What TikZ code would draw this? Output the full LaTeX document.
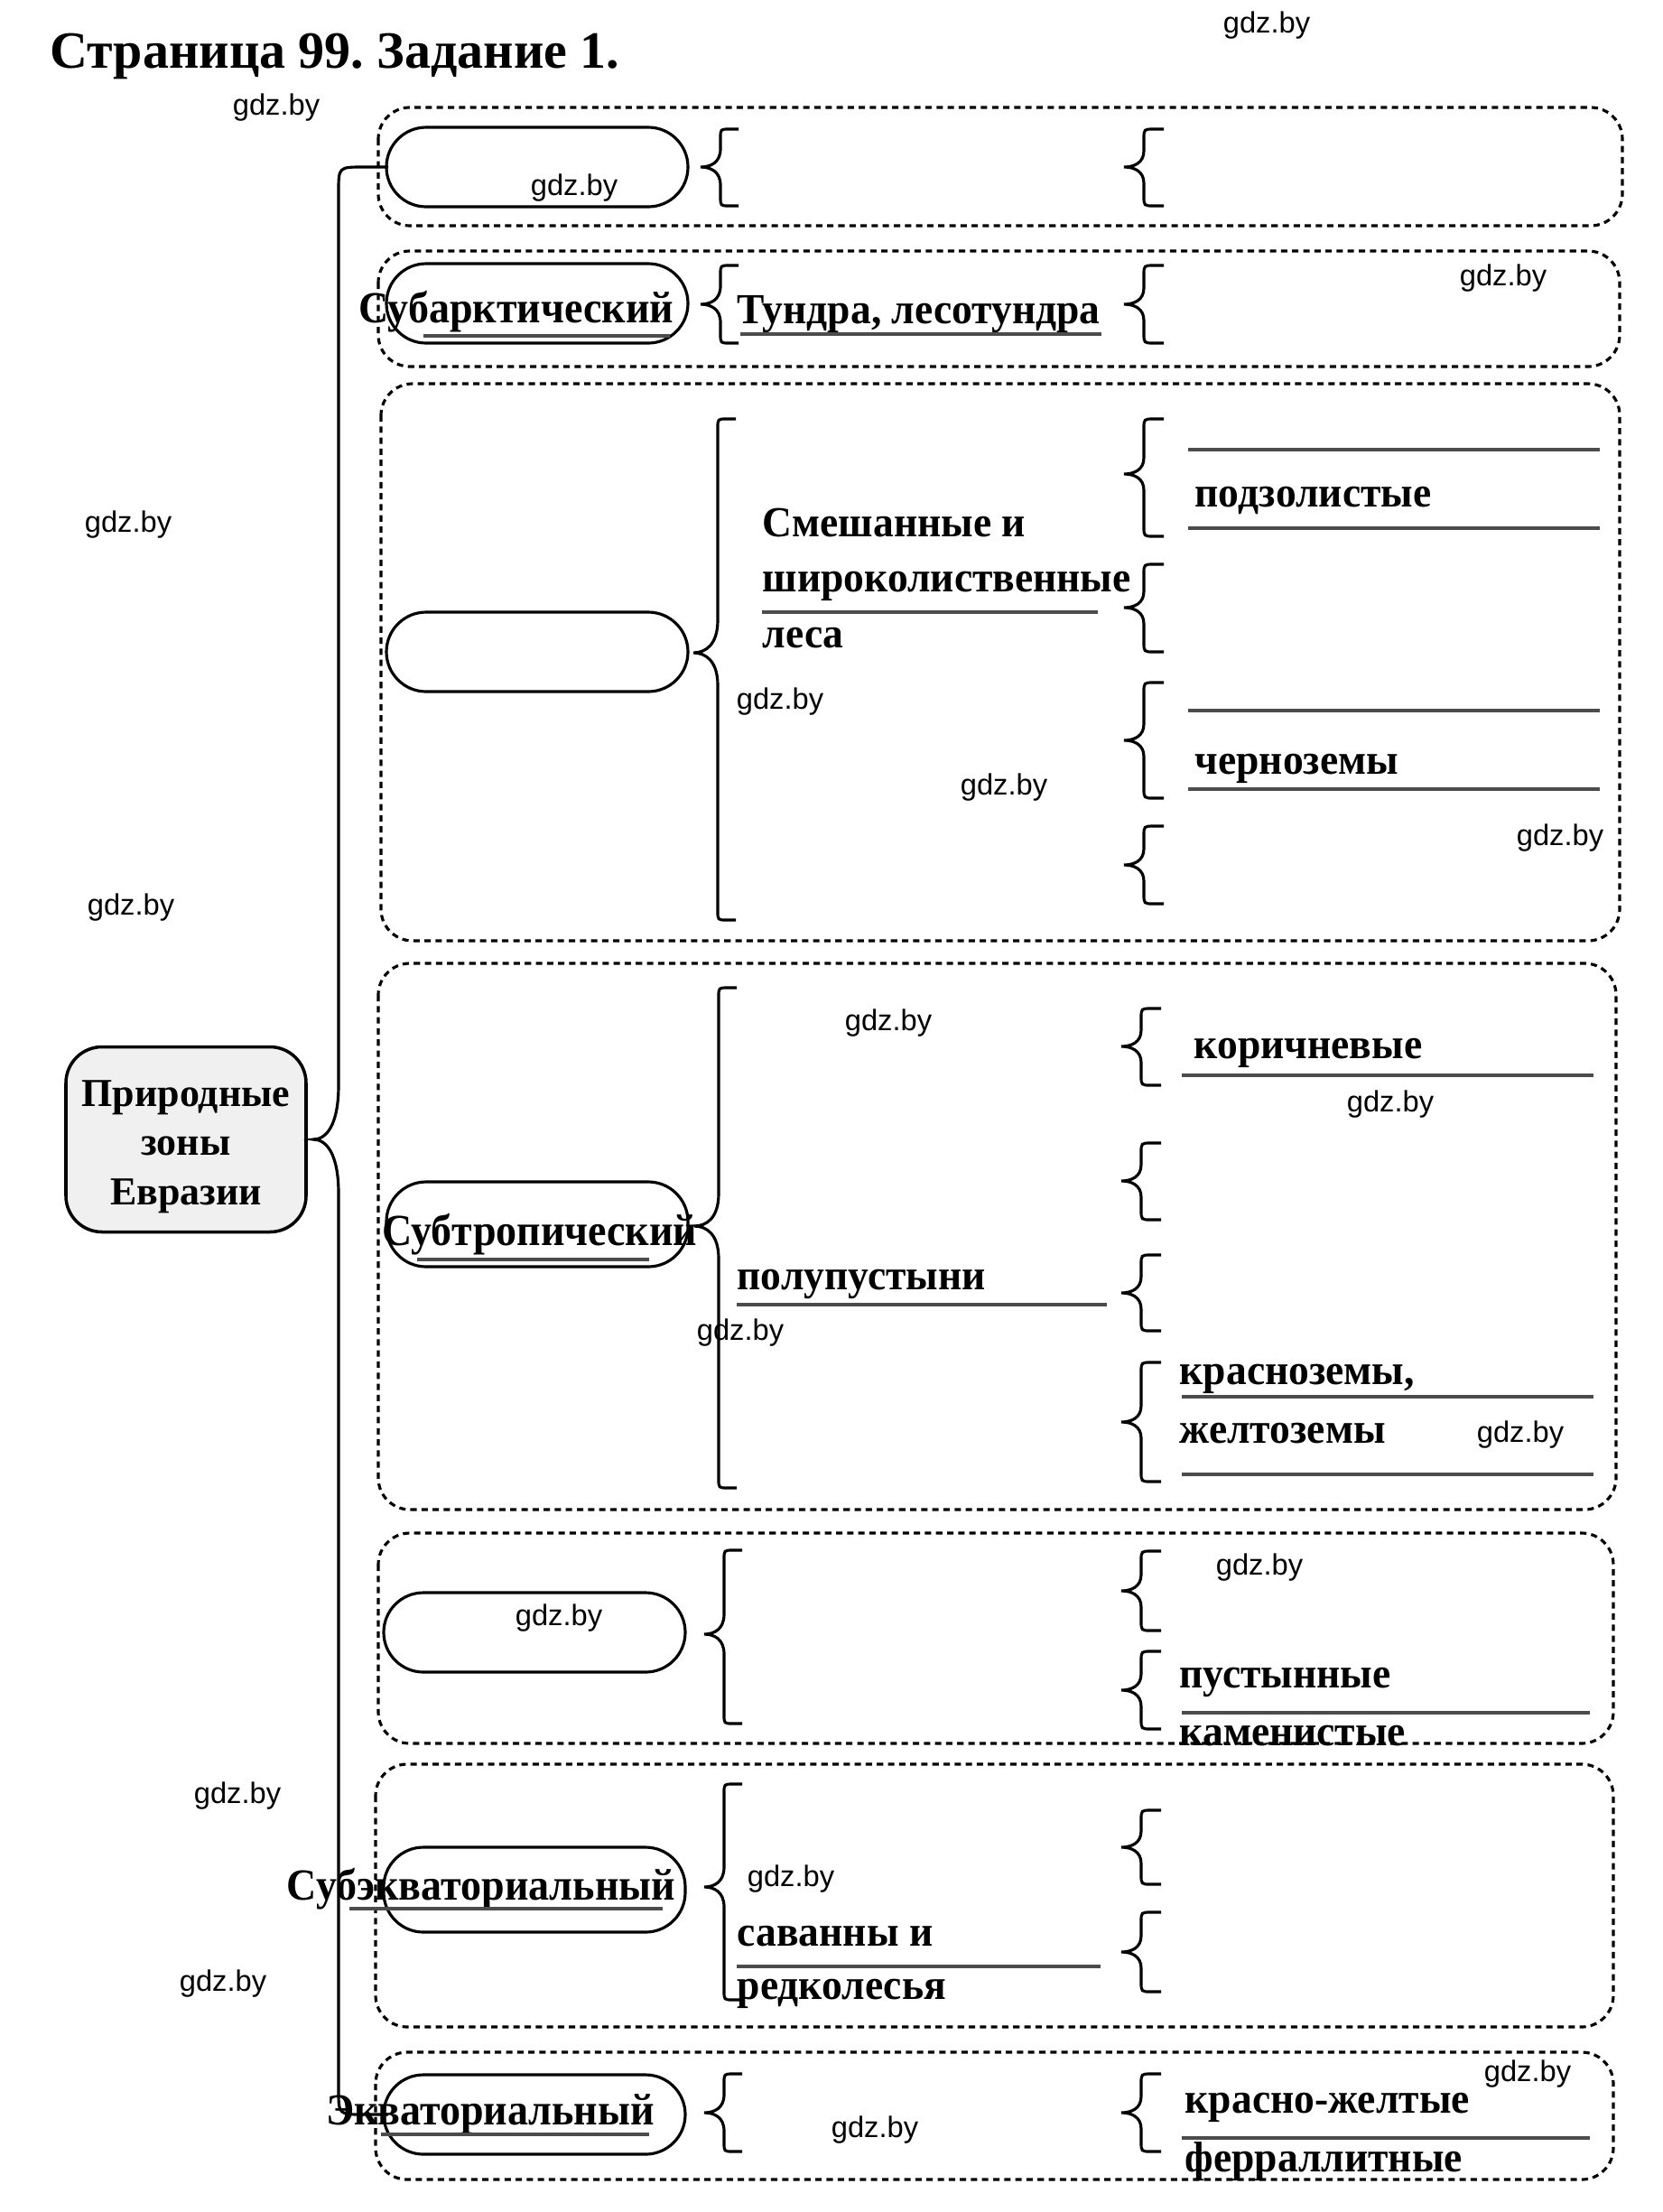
\documentclass[tikz,border=0pt]{standalone}
\usepackage{fontspec}
\setmainfont{Liberation Serif}
\newfontfamily\soilfont{Liberation Serif}[FakeStretch=0.96]
\newfontfamily\zonefont{Liberation Serif}[FakeStretch=0.935]
\newfontfamily\wmfont{Liberation Sans}
\usetikzlibrary{calc}
\frenchspacing

% curly brace: tip x, tip y, up, down, depth, hook, cusp
\newcommand{\zbrace}[7]{%
  \draw[brace line] ({#1+#5+#6},{#2+#3}) -- ({#1+#5+0.5*#6},{#2+#3})
    .. controls ({#1+#5},{#2+#3}) .. ({#1+#5},{#2+#3-0.5*#6})
    -- ({#1+#5},{#2+#7})
    .. controls ({#1+#5},{#2+0.25*#7}) and ({#1+0.5*#5},{#2}) .. (#1,#2)
    .. controls ({#1+0.5*#5},{#2}) and ({#1+#5},{#2-0.25*#7}) .. ({#1+#5},{#2-#7})
    -- ({#1+#5},{#2-#4+0.5*#6})
    .. controls ({#1+#5},{#2-#4}) .. ({#1+#5+0.5*#6},{#2-#4})
    -- ({#1+#5+#6},{#2-#4});
}

\begin{document}
\begin{tikzpicture}[
  zone/.style={draw, line width=0.9pt, rounded corners=0.44cm, minimum width=3.34cm, minimum height=0.88cm, inner sep=0pt},
  zlabel/.style={font=\zonefont\fontsize{14}{16}\selectfont\bfseries, inner sep=0pt, yshift=-0.05cm},
  soil/.style={font=\soilfont\fontsize{13.5}{16}\selectfont\bfseries, anchor=west, inner sep=0pt, yshift=-0.08cm},
  rowframe/.style={draw, line width=0.9pt, dash pattern=on 2pt off 1.5pt, rounded corners=0.35cm},
  brace line/.style={line width=0.9pt},
  fill line/.style={line width=1.4pt, black!70},
  wm/.style={font=\wmfont\fontsize{9.3}{11}\selectfont, inner sep=0pt}
]
\useasboundingbox (0,0) rectangle (18.42,-24.50);

\node[anchor=base west, font=\fontsize{16.5}{19}\selectfont\bfseries, inner sep=0pt] (title) at (0.55,-0.75) {Страница 99. Задание 1.};

% dashed rows
\draw[rowframe] (4.19,-1.19) rectangle (17.97,-2.50);
\draw[rowframe] (4.19,-2.78) rectangle (17.94,-4.06);
\draw[rowframe] (4.22,-4.25) rectangle (17.94,-10.42);
\draw[rowframe] (4.19,-10.67) rectangle (17.90,-16.72);
\draw[rowframe] (4.19,-16.98) rectangle (17.87,-19.31);
\draw[rowframe] (4.16,-19.54) rectangle (17.87,-22.45);
\draw[rowframe] (4.16,-22.73) rectangle (17.87,-24.14);

% main box
\node[draw, line width=1pt, rounded corners=0.4cm, fill=gray!12, minimum width=2.66cm, minimum height=2.05cm] (main) at (2.06,-12.62) {};
\node[align=center, font=\fontsize{12.5}{15.5}\selectfont\bfseries, inner sep=0pt] (maintext) at ($(main)+(0,-0.08)$) {Природные\\зоны\\Евразии};

% zones
\node[zone] (z1) at (5.95,-1.85) {};
\node[zone] (z2) at (5.95,-3.36) {};
\node[zone] (z3) at (5.95,-7.22) {};
\node[zone, minimum height=0.94cm] (z4) at (5.95,-13.56) {};
\node[zone] (z5) at (5.92,-18.08) {};
\node[zone, minimum height=0.94cm] (z6) at (5.92,-20.93) {};
\node[zone] (z7) at (5.92,-23.42) {};

\node[zlabel] (z2t) at (5.72,-3.40) {Субарктический};
\node[zlabel] (z4t) at (5.98,-13.62) {Субтропический};
\node[zlabel] (z6t) at (5.33,-20.87) {Субэкваториальный};
\node[zlabel] (z7t) at (5.43,-23.37) {Экваториальный};
\draw[fill line] (4.69,-3.72) -- (7.42,-3.72);
\draw[fill line] (4.62,-13.95) -- (7.19,-13.95);
\draw[fill line] (3.87,-21.14) -- (7.34,-21.14);
\draw[fill line] (4.22,-23.64) -- (7.19,-23.64);

% main brace
\zbrace{3.47}{-12.62}{10.77}{10.80}{0.28}{0.55}{0.6}

% second level braces
\zbrace{7.76}{-1.85}{0.42}{0.43}{0.22}{0.2}{0.2}
\zbrace{7.76}{-3.37}{0.43}{0.43}{0.22}{0.2}{0.2}
\zbrace{7.68}{-7.23}{2.59}{2.96}{0.27}{0.2}{0.36}
\zbrace{7.69}{-13.58}{2.64}{2.90}{0.27}{0.2}{0.36}
\zbrace{7.80}{-18.10}{0.93}{0.99}{0.22}{0.2}{0.22}
\zbrace{7.80}{-20.90}{1.14}{1.25}{0.22}{0.2}{0.22}
\zbrace{7.80}{-23.40}{0.43}{0.43}{0.22}{0.2}{0.2}

% third level braces
\zbrace{12.45}{-1.85}{0.42}{0.43}{0.22}{0.22}{0.18}
\zbrace{12.45}{-3.37}{0.43}{0.43}{0.22}{0.22}{0.18}
\zbrace{12.45}{-5.25}{0.61}{0.69}{0.22}{0.22}{0.18}
\zbrace{12.45}{-6.73}{0.48}{0.49}{0.22}{0.22}{0.18}
\zbrace{12.45}{-8.20}{0.64}{0.64}{0.22}{0.22}{0.18}
\zbrace{12.45}{-9.58}{0.43}{0.43}{0.22}{0.22}{0.18}
\zbrace{12.42}{-11.59}{0.42}{0.43}{0.22}{0.22}{0.18}
\zbrace{12.42}{-13.08}{0.42}{0.43}{0.22}{0.22}{0.18}
\zbrace{12.42}{-14.32}{0.42}{0.42}{0.22}{0.22}{0.18}
\zbrace{12.42}{-15.75}{0.66}{0.66}{0.22}{0.22}{0.18}
\zbrace{12.42}{-17.62}{0.44}{0.44}{0.22}{0.22}{0.18}
\zbrace{12.42}{-18.72}{0.43}{0.43}{0.22}{0.22}{0.18}
\zbrace{12.42}{-20.46}{0.41}{0.41}{0.22}{0.22}{0.18}
\zbrace{12.42}{-21.62}{0.44}{0.44}{0.22}{0.22}{0.18}
\zbrace{12.42}{-23.40}{0.43}{0.43}{0.22}{0.22}{0.18}

% texts and answer lines
\node[soil] (t2) at (8.16,-3.40) {Тундра, лесотундра};
\draw[fill line] (8.2,-3.70) -- (12.2,-3.70);

\node[soil] (t3a) at (8.44,-5.71) {Смешанные и};
\node[soil] (t3b) at (8.44,-6.41) {широколиственные};
\node[soil] (t3c) at (8.44,-6.99) {леса};
\draw[fill line] (8.44,-6.78) -- (12.16,-6.78);
\draw[fill line] (13.16,-4.98) -- (17.72,-4.98);
\node[soil] (s3a) at (13.23,-5.46) {подзолистые};
\draw[fill line] (13.16,-5.85) -- (17.72,-5.85);
\draw[fill line] (13.16,-7.87) -- (17.72,-7.87);
\node[soil] (s3c) at (13.23,-8.43) {черноземы};
\draw[fill line] (13.16,-8.74) -- (17.72,-8.74);

\node[soil] (s4a) at (13.22,-11.58) {коричневые};
\draw[fill line] (13.09,-11.91) -- (17.65,-11.91);
\node[soil] (t4) at (8.16,-14.14) {полупустыни};
\draw[fill line] (8.16,-14.45) -- (12.26,-14.45);
\node[soil] (s4d) at (13.06,-15.19) {красноземы,};
\draw[fill line] (13.09,-15.47) -- (17.65,-15.47);
\node[soil] (s4e) at (13.06,-15.80) {желтоземы};
\draw[fill line] (13.09,-16.33) -- (17.65,-16.33);

\node[soil] (s5a) at (13.06,-18.55) {пустынные};
\draw[fill line] (13.09,-18.97) -- (17.61,-18.97);
\node[soil] (s5b) at (13.06,-19.15) {каменистые};

\node[soil] (t6a) at (8.16,-21.37) {саванны и};
\draw[fill line] (8.16,-21.78) -- (12.19,-21.78);
\node[soil] (t6b) at (8.16,-22.00) {редколесья};

\node[soil] (s7a) at (13.12,-23.26) {красно-желтые};
\draw[fill line] (13.09,-23.68) -- (17.61,-23.68);
\node[soil] (s7b) at (13.12,-23.86) {ферраллитные};

% watermarks
\foreach \wx/\wy [count=\i] in {14.03/-0.28, 3.06/-1.19, 6.36/-2.08, 16.65/-3.08, 1.42/-5.81, 8.64/-7.77, 11.12/-8.72, 17.28/-9.28, 1.45/-10.05, 9.84/-11.33, 15.40/-12.23, 8.20/-14.76, 16.84/-15.89, 13.95/-17.36, 6.19/-17.92, 2.63/-19.89, 8.76/-20.81, 2.47/-21.97, 16.92/-22.97, 9.69/-23.59}
  \node[wm] (wm\i) at (\wx,\wy) {gdz.by};
\end{tikzpicture}
\end{document}
